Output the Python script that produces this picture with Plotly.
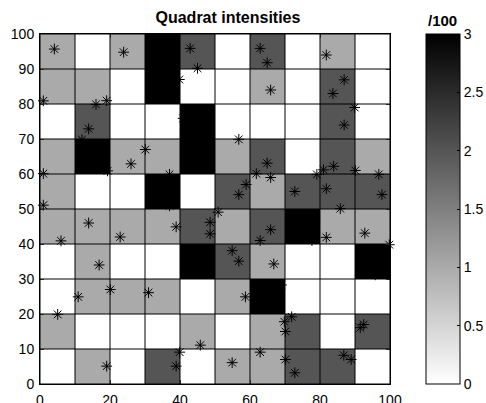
import plotly.graph_objects as go

# Quadrat grid (10 x 10 cells of 10 x 10 units)
cell_centers = [5, 15, 25, 35, 45, 55, 65, 75, 85, 95]
grid_edges = [0, 10, 20, 30, 40, 50, 60, 70, 80, 90, 100]

# counts per quadrat (per 100 area units); rows from bottom (y 0-10) to top (y 90-100)
counts = [
    [0, 1, 0, 2, 0, 1, 1, 2, 2, 0],
    [1, 0, 0, 0, 1, 0, 1, 2, 0, 2],
    [0, 1, 1, 1, 0, 1, 3, 0, 0, 0],
    [0, 1, 0, 0, 3, 2, 1, 0, 0, 3],
    [1, 1, 1, 1, 2, 1, 2, 3, 1, 1],
    [1, 0, 0, 3, 0, 2, 1, 2, 2, 2],
    [1, 3, 1, 1, 3, 1, 2, 0, 2, 1],
    [0, 2, 0, 0, 3, 0, 0, 0, 2, 0],
    [1, 1, 0, 3, 0, 0, 1, 0, 2, 0],
    [1, 0, 1, 3, 2, 0, 2, 0, 1, 0],
]

# point pattern (x, y)
pts_x = [
    4.1, 23.9, 42.9, 45.0, 62.9, 64.9, 81.8, 32.5, 36.5, 33.5,
    0.95, 19.05, 39.8, 65.9, 86.9, 83.7, 33.0, 36.0,
    16.0, 13.9, 40.9, 89.9, 86.9, 45.0, 47.0,
    0.95, 12.0, 19.3, 15.5, 26.0, 30.1, 43.0, 46.5, 42.5, 56.8, 64.9, 61.8, 81.0, 83.9, 90.1,
    0.95, 37.0, 37.0, 33.5, 58.9, 56.8, 65.9, 72.8, 79.1, 81.8, 85.8, 96.8, 97.7,
    6.0, 13.9, 22.9, 38.9, 48.6, 48.6, 50.9, 65.9, 62.9, 77.7, 73.0, 76.0, 81.8, 92.8,
    16.9, 43.0, 46.5, 42.5, 54.9, 56.8, 66.8, 99.8, 95.8, 93.0,
    10.9, 20.1, 31.0, 58.7, 69.0, 63.0, 66.0,
    5.05, 45.8, 69.8, 71.9, 70.1, 92.5, 91.5,
    19.05, 38.9, 39.9, 54.9, 62.9, 70.1, 72.8, 86.8, 88.9,
]
pts_y = [
    95.7, 94.8, 95.9, 90.2, 95.9, 91.8, 94.0, 96.5, 94.0, 91.8,
    80.9, 80.95, 87.0, 84.0, 86.9, 83.0, 84.0, 82.5,
    79.9, 72.9, 75.9, 79.0, 74.0, 78.0, 72.0,
    60.1, 69.8, 60.9, 65.0, 62.9, 67.0, 67.0, 64.0, 62.0, 69.9, 63.1, 60.1, 61.2, 62.2, 61.0,
    51.1, 59.9, 50.9, 55.5, 57.0, 54.1, 59.0, 55.0, 59.9, 55.8, 50.1, 59.9, 54.1,
    40.9, 46.0, 42.0, 44.9, 46.2, 42.9, 49.1, 44.1, 41.0, 41.0, 47.0, 45.0, 41.9, 43.1,
    34.0, 37.0, 34.5, 32.5, 38.1, 35.1, 34.3, 39.8, 31.2, 36.0,
    24.9, 27.0, 26.1, 24.9, 28.3, 26.0, 22.5,
    19.9, 11.1, 17.8, 19.2, 15.0, 17.0, 16.1,
    5.1, 5.1, 9.1, 6.1, 9.1, 7.0, 3.2, 8.2, 7.0,
]

x_ticks = [0, 20, 40, 60, 80, 100]
y_ticks = [0, 10, 20, 30, 40, 50, 60, 70, 80, 90, 100]
cbar_ticks = [0, 0.5, 1, 1.5, 2, 2.5, 3]
cbar_labels = ["0", "0.5", "1", "1.5", "2", "2.5", "3"]

FONT = "Liberation Sans, Arial, Helvetica, sans-serif"

fig = go.Figure()
fig.add_trace(go.Heatmap(
    x=cell_centers, y=cell_centers, z=counts,
    colorscale=[[0, "#ffffff"], [1, "#000000"]], zmin=0, zmax=3,
    hoverinfo="skip",
    colorbar=dict(
        x=(425.5 - 40) / 350, xanchor="left", y=0.5, yanchor="middle",
        thickness=34, thicknessmode="pixels", len=1, lenmode="fraction",
        outlinewidth=1, outlinecolor="black",
        ticks="inside", ticklen=3, tickcolor="black",
        tickvals=cbar_ticks, ticktext=cbar_labels,
        tickfont=dict(size=14, family=FONT, color="black"),
        xpad=0, ypad=0,
    ),
))
fig.add_trace(go.Scatter(
    x=pts_x, y=pts_y, mode="markers", cliponaxis=False,
    marker=dict(symbol="asterisk-open", size=9, color="black",
                line=dict(color="black", width=1)),
    hoverinfo="skip",
))

for v in grid_edges:
    fig.add_shape(type="line", x0=v, x1=v, y0=0, y1=100, xref="x", yref="y",
                  line=dict(color="black", width=1), layer="above")
    fig.add_shape(type="line", x0=0, x1=100, y0=v, y1=v, xref="x", yref="y",
                  line=dict(color="black", width=1), layer="above")

fig.add_annotation(text="<b>/100</b>", x=(442.5 - 40) / 350, xref="paper", xanchor="center",
                   y=1 + (34 - 20.5) / 350, yref="paper", yanchor="middle", showarrow=False,
                   font=dict(size=15, family=FONT, color="black"))

fig.update_layout(
    width=486, height=403,
    margin=dict(l=40, r=96, t=34, b=19, autoexpand=False),
    paper_bgcolor="white", plot_bgcolor="white",
    showlegend=False,
    font=dict(family=FONT, size=14, color="black"),
    title=dict(text="<b>Quadrat intensities</b>", x=0.537, xref="paper", xanchor="center",
               y=1 - 17.5 / 403, yref="container", yanchor="middle",
               font=dict(size=16, family=FONT, color="black")),
    xaxis=dict(range=[0, 100], tickvals=x_ticks, ticks="inside", ticklen=4,
               showline=True, mirror="ticks", linecolor="black", linewidth=1,
               showgrid=False, zeroline=False, tickfont=dict(size=14), automargin=False,
               ticklabelstandoff=3),
    yaxis=dict(range=[0, 100], tickvals=y_ticks, ticks="inside", ticklen=4,
               showline=True, mirror="ticks", linecolor="black", linewidth=1,
               showgrid=False, zeroline=False, tickfont=dict(size=14), automargin=False,
               ticklabelstandoff=2),
)

fig.write_html("out.html", config={"displayModeBar": False},
               post_script="document.body.style.margin='0';document.body.style.overflow='hidden';")
